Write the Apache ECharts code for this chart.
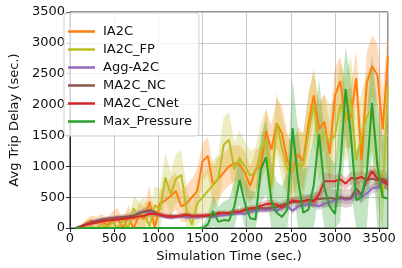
<!DOCTYPE html>
<html><head><meta charset="utf-8">
<script src="https://cdn.jsdelivr.net/npm/echarts@6/dist/echarts.min.js"></script>
<style>html,body{margin:0;padding:0;background:#fff}#c{width:402px;height:268px}</style>
</head><body><div id="c"></div>
<script>
const times = [60,120,180,240,300,360,420,480,540,600,660,720,780,840,900,960,1020,1080,1140,1200,1260,1320,1380,1440,1500,1560,1620,1680,1740,1800,1860,1920,1980,2040,2100,2160,2220,2280,2340,2400,2460,2520,2580,2640,2700,2760,2820,2880,2940,3000,3060,3120,3180,3240,3300,3360,3420,3480,3540,3600];
const seriesNames = ['IA2C','IA2C_FP','Agg-A2C','MA2C_NC','MA2C_CNet','Max_Pressure'];
const ia2c = [0,20,80,130,80,110,50,120,150,0, 180,0,200,150,430,0,400,450,520,600, 350,400,500,600,1080,1170,700,800,900,1000, 1050,1030,900,680,950,1000,1570,1270,1700,1530, 1100,920,1200,1080,1700,2150,1600,1720,1200,2150, 2380,1750,1800,2430,1100,2350,2620,2480,1600,2780];
const ia2cFp = [0,0,0,20,0,60,0,100,0,130, 0,320,180,250,30,370,300,820,550,800, 860,300,50,400,500,600,700,800,1350,1430, 950,1130,1000,850,900,1250,1450,650,1700,1300, 950,950,1050,1000,1550,2000,1350,1550,1400,1500, 2000,1750,2100,1100,1500,1800,1950,1100,500,2300];
const aggA2c = [0,30,60,100,120,140,150,160,170,175, 180,200,250,260,250,230,200,180,170,180, 190,170,180,170,200,190,180,200,210,220, 230,240,230,260,280,290,290,310,280,330, 360,280,350,370,390,380,350,400,420,450, 480,460,470,580,500,560,640,660,740,720];
const ma2cNc = [0,30,60,90,110,130,150,160,170,180, 190,200,230,270,290,260,210,190,200,190, 200,210,200,200,190,200,220,230,250,230, 260,270,290,300,310,330,320,330,340,380, 400,420,430,440,450,460,470,480,490,470, 500,480,490,640,540,780,800,780,800,750];
const ma2cCnet = [0,20,50,70,90,110,120,130,140,150, 160,170,190,200,230,230,220,200,180,190, 200,220,190,200,200,210,210,250,240,250, 270,260,300,320,330,360,390,400,380,330, 400,450,430,430,460,430,550,760,760,760, 790,720,810,800,830,770,920,800,760,700];
const maxPressure = [0,0,0,0,0,0,0,0,0,0, 0,0,0,0,0,0,0,0,0,0, 0,0,0,0,0,60,280,100,130,120, 350,780,400,160,140,950,1150,450,250,180, 300,1620,800,250,300,700,1520,650,350,230, 1000,2250,1500,450,500,900,2030,1000,500,480];
// half-width of the shaded bands
const ia2cSpread = [0,30,60,80,100,120,110,150,180,120, 200,150,220,200,250,200,200,250,300,300, 250,300,300,350,300,300,300,350,300,300, 300,300,350,300,300,350,350,400,400,450, 450,400,450,450,500,400,450,450,500,450, 400,450,500,450,500,500,500,500,600,450];
const ia2cFpSpread = [0,20,30,40,40,60,50,80,60,100, 80,200,250,250,250,300,350,400,350,400, 400,350,300,350,350,400,400,400,450,450, 450,450,400,400,400,450,500,500,500,500, 500,500,500,550,600,600,600,600,600,600, 700,700,700,700,700,700,700,700,800,800];
const aggA2cSpread = [0,10,20,30,30,30,30,30,30,30, 30,40,40,40,40,40,30,30,30,30, 30,30,30,30,30,30,30,30,30,30, 30,30,30,40,40,40,40,40,40,40, 50,50,50,50,50,50,60,60,60,60, 70,70,70,80,80,80,80,80,80,80];
const ma2cNcSpread = [0,10,30,40,40,40,40,40,40,50, 50,50,50,60,60,50,40,40,40,40, 40,40,40,40,40,40,40,40,40,40, 50,50,50,50,50,60,60,60,60,60, 80,80,100,100,100,120,120,150,150,150, 150,150,150,150,150,150,150,150,150,150];
const ma2cCnetSpread = [0,20,30,40,40,50,50,50,50,50, 50,50,50,50,50,50,40,40,40,40, 40,40,40,40,40,40,40,40,40,40, 40,50,50,50,50,60,60,60,60,60, 60,60,60,70,80,100,120,150,120,100, 100,100,100,100,100,100,100,100,100,100];
const maxPressureSpread = [0,0,0,0,0,0,0,0,0,0, 0,0,0,0,0,0,0,0,0,0, 0,0,0,0,50,150,250,250,300,350, 400,400,400,450,450,550,600,600,500,500, 600,800,800,700,700,800,900,900,800,800, 900,700,900,800,900,900,800,1000,1000,1000];
const xTicks = [0,500,1000,1500,2000,2500,3000,3500];
const yTicks = [0,500,1000,1500,2000,2500,3000,3500];

const colors = ['#ff7f0e','#bcbd22','#9467bd','#8c564b','#d62728','#2ca02c'];
const values = [ia2c, ia2cFp, aggA2c, ma2cNc, ma2cCnet, maxPressure];
const spreads = [ia2cSpread, ia2cFpSpread, aggA2cSpread, ma2cNcSpread, ma2cCnetSpread, maxPressureSpread];
const FONT = 'DejaVu Sans';

const series = [];
values.forEach((vals, i) => {
  const lower = vals.map((v, j) => Math.max(0, v - spreads[i][j]));
  const upper = vals.map((v, j) => v + spreads[i][j]);
  series.push({
    type: 'custom', name: 'band_' + i, silent: true, z: 1, clip: true,
    data: [[times[0], vals[0]]],
    renderItem: function (params, api) {
      const pts = [];
      for (let j = 0; j < times.length; j++) pts.push(api.coord([times[j], upper[j]]));
      for (let j = times.length - 1; j >= 0; j--) pts.push(api.coord([times[j], lower[j]]));
      return {
        type: 'polygon', shape: {points: pts},
        style: {fill: colors[i], opacity: 0.28, stroke: null}
      };
    }
  });
});
values.forEach((vals, i) => {
  series.push({
    type: 'line', name: seriesNames[i], symbol: 'none', color: colors[i],
    lineStyle: {width: 2, color: colors[i]},
    data: times.map((t, j) => [t, vals[j]]), z: 2 + i
  });
});

const chart = echarts.init(document.getElementById('c'), null, {renderer: 'canvas'});
chart.setOption({
  animation: false,
  backgroundColor: '#fff',
  grid: {left: 58, right: 14, top: 12, bottom: 39, show: true, borderColor: '#222', borderWidth: 1, backgroundColor: 'transparent'},
  legend: {
    data: seriesNames.map((n, i) => ({name: n, icon: 'rect', itemStyle: {color: colors[i]}})),
    orient: 'vertical', left: 64, top: 13,
    itemWidth: 27, itemHeight: 2.5, itemGap: 5,
    padding: [12, 7, 8, 4],
    borderColor: '#d0d0d0', borderWidth: 1, borderRadius: 3,
    backgroundColor: 'rgba(255,255,255,0.8)',
    textStyle: {fontFamily: FONT, fontSize: 13, color: '#111', padding: [0,0,0,3]}
  },
  xAxis: {
    type: 'value', min: xTicks[0], max: 3600, interval: xTicks[1] - xTicks[0],
    name: 'Simulation Time (sec.)', nameLocation: 'middle', nameGap: 19,
    nameTextStyle: {fontFamily: FONT, fontSize: 13, color: '#111'},
    axisLine: {show: true, lineStyle: {color: '#222'}},
    axisTick: {show: true, inside: false, length: 4, lineStyle: {color: '#222'}},
    axisLabel: {fontFamily: FONT, fontSize: 13, color: '#111', margin: 4, showMaxLabel: false, formatter: v => String(v)},
    splitLine: {show: true, lineStyle: {color: '#c8c8c8', width: 1}}
  },
  yAxis: {
    type: 'value', min: yTicks[0], max: yTicks[yTicks.length - 1], interval: yTicks[1] - yTicks[0],
    name: 'Avg Trip Delay (sec.)', nameLocation: 'middle', nameGap: 38,
    nameTextStyle: {fontFamily: FONT, fontSize: 13, color: '#111'},
    axisLine: {show: true, lineStyle: {color: '#222'}},
    axisTick: {show: true, inside: false, length: 4, lineStyle: {color: '#222'}},
    axisLabel: {fontFamily: FONT, fontSize: 13, color: '#111', margin: 5, formatter: v => String(v)},
    splitLine: {show: true, lineStyle: {color: '#c8c8c8', width: 1}}
  },
  series: series
});
</script></body></html>
